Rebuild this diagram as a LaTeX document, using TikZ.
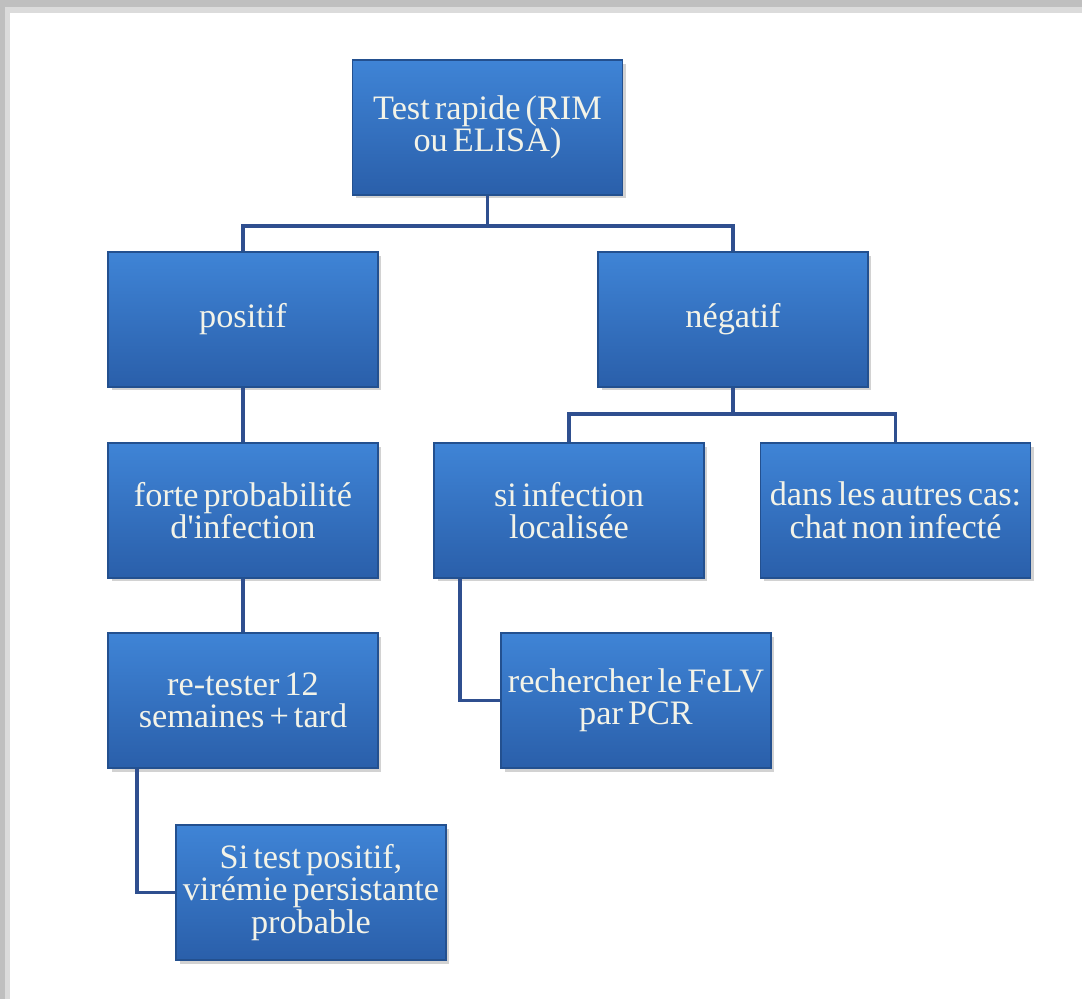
\documentclass[tikz,border=0pt]{standalone}
\usepackage{fontspec}
\setmainfont{Liberation Serif}[WordSpace=0.6]
\usepackage{tikz}
\usetikzlibrary{positioning}
\usetikzlibrary{shadows}
\definecolor{boxtop}{HTML}{3F84D6}
\definecolor{boxbot}{HTML}{2A5FAA}
\definecolor{boxline}{HTML}{23508F}
\definecolor{linkblue}{HTML}{2F4F8F}
\definecolor{textcream}{HTML}{F3F3E8}
\tikzset{box/.style = {rectangle, top color=boxtop, bottom color=boxbot,
                       draw=boxline, line width=0.8pt,
                       minimum width=5.4cm, minimum height=2.7cm,
                       align=center, inner sep=0pt,
                       text=textcream, font=\fontsize{19.5}{18.5}\selectfont,
                       drop shadow={opacity=0.35, shadow xshift=2pt, shadow yshift=-2pt}},
         link/.style = {draw=linkblue, line width=2.2pt}}

\begin{document}
\begin{tikzpicture}[x=0.02cm, y=-0.02cm]
    \useasboundingbox (0, 0) rectangle (1082, 999);
    \fill [gray!50] (0, 0) rectangle (1082, 999);
    \fill [gray!28] (5, 7) rectangle (1082, 999);
    \fill [white] (10, 13) rectangle (1082, 999);

    \node [box] (root) at (487.5, 127.5) {Test rapide (RIM\\ ou ELISA)};
    \node [box] (pos) at (243, 319.5) {positif};
    \node [box] (neg) at (733, 319.5) {négatif};
    \node [box] (forte) at (243, 510.5) {forte probabilité\\ d\textquotesingle infection};
    \node [box] (siinf) at (569, 510.5) {si infection\\ localisée};
    \node [box] (autres) at (895.5, 510.5) {dans les autres cas:\\ chat non infecté};
    \node [box] (retest) at (243, 700.5) {re-tester 12\\ semaines + tard};
    \node [box] (pcr) at (636, 700.5) {rechercher le FeLV\\ par PCR};
    \node [box] (viremie) at (311, 892.5) {Si test positif,\\ virémie persistante\\ probable};

    \draw [link] (root.south) -- ++(0, 30) -| (pos.north);
    \draw [link] (root.south) -- ++(0, 30) -| (neg.north);
    \draw [link] (pos) -- (forte);
    \draw [link] (forte) -- (retest);
    \draw [link] (neg.south) -- ++(0, 26) -| (siinf.north);
    \draw [link] (neg.south) -- ++(0, 26) -| (autres.north);
    \draw [link] ([xshift=0.54cm]siinf.south west) |- (pcr.west);
    \draw [link] ([xshift=0.6cm]retest.south west) |- (viremie.west);
  \end{tikzpicture}
\end{document}
